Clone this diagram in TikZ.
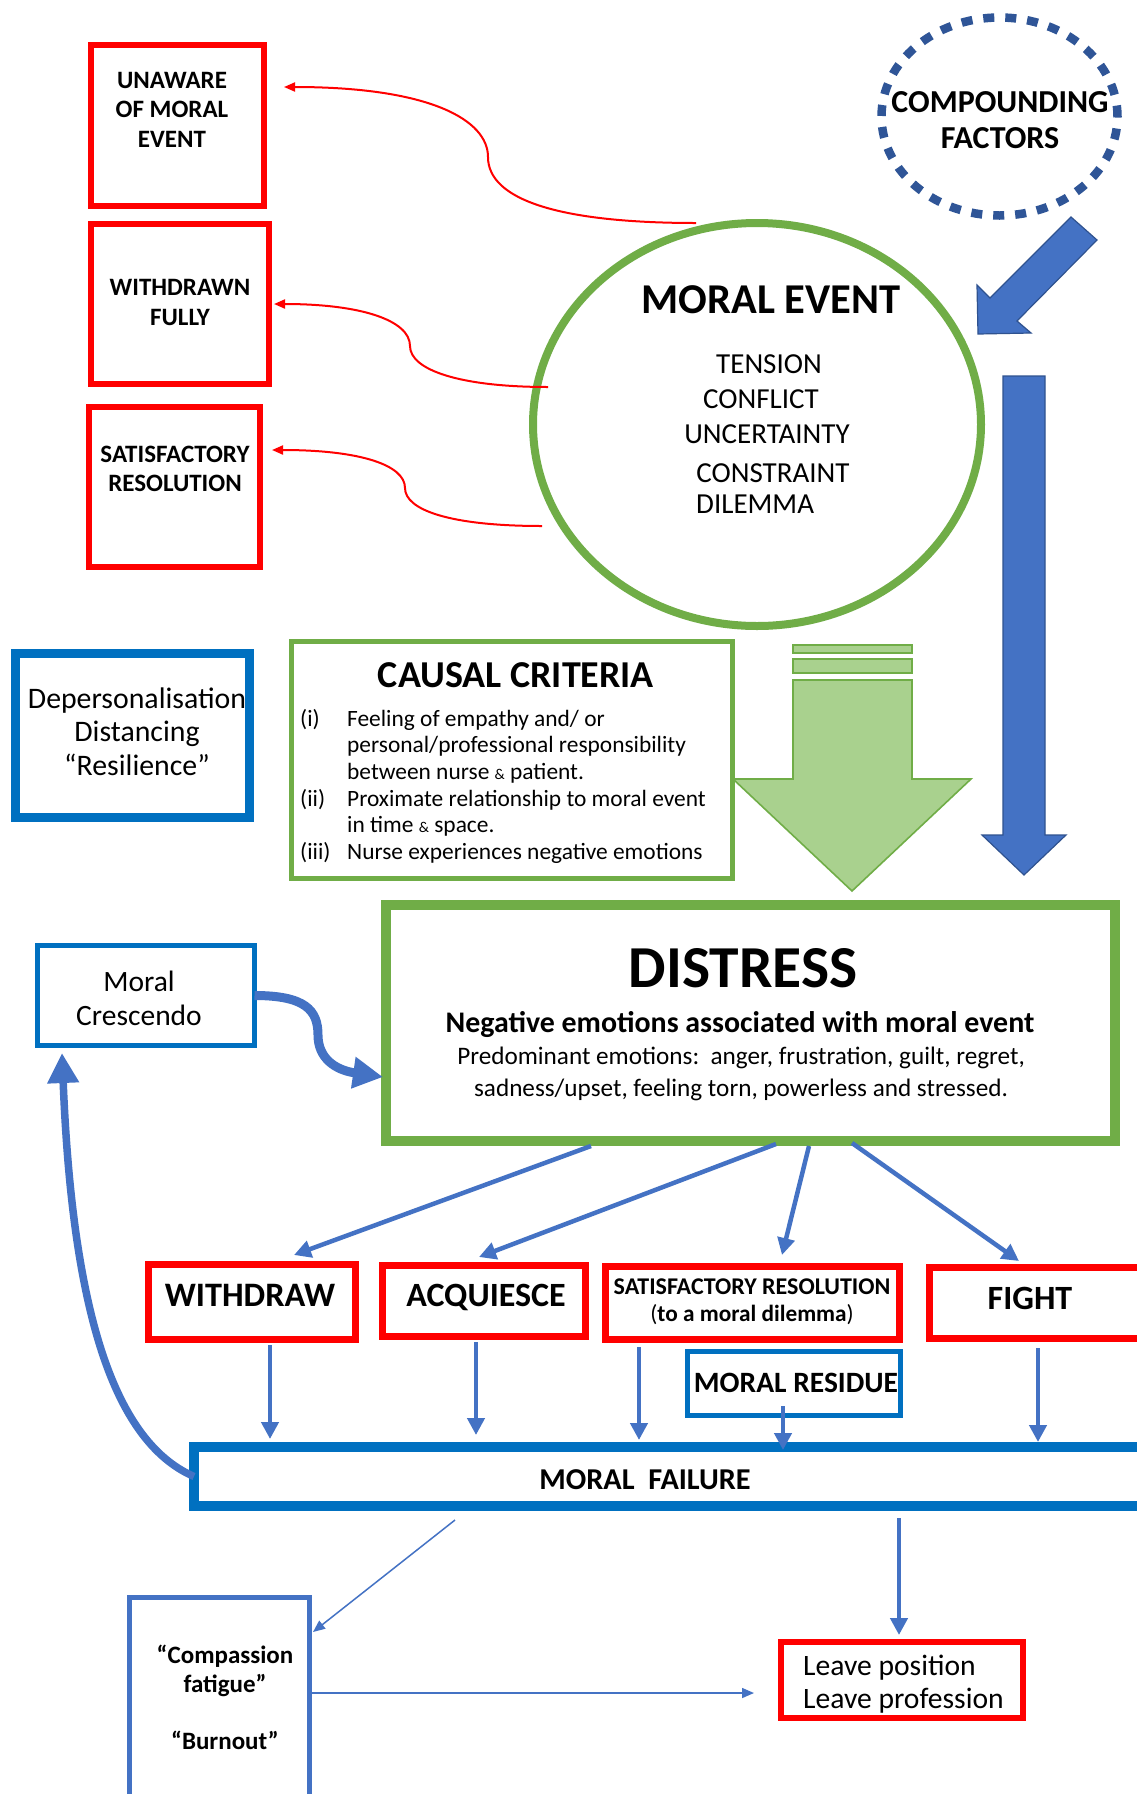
\documentclass[tikz,border=0pt]{standalone}
\usepackage{fontspec}
\setmainfont{Carlito}
\usetikzlibrary{shapes.geometric,arrows.meta,calc}
\definecolor{myred}{HTML}{FF0000}
\definecolor{boxblue}{HTML}{0070C0}
\definecolor{arrblue}{HTML}{4472C4}
\definecolor{darkblue}{HTML}{2F5597}
\definecolor{edgeblue}{HTML}{2F528F}
\definecolor{mygreen}{HTML}{70AD47}
\definecolor{lightgreen}{HTML}{A9D18E}
\newcommand{\setfs}[2]{\fontsize{#1}{#2}\selectfont}
\newcommand{\smallamp}{{\fontsize{15}{15}\selectfont\&}}
\begin{document}
\begin{tikzpicture}[x=1pt,y=-1pt,
  plainbox/.style={rectangle,inner sep=0pt,outer sep=0pt},
  redbox/.style={plainbox,draw=myred,line width=6.5pt},
  redboxB/.style={plainbox,draw=myred,line width=7pt},
  bluebox/.style={plainbox,draw=boxblue,line width=9pt},
  txt/.style={inner sep=0pt,align=center,text=black},
  arrmed/.style={draw=arrblue,line width=4.5pt,-{Triangle[length=17pt,width=17pt]}},
  arrthin/.style={draw=arrblue,line width=1.5pt,-{Triangle[length=12pt,width=10pt]}},
  redarr/.style={draw=myred,line width=2pt,-{Triangle[length=11pt,width=9pt]}},
  bigcurve/.style={draw=arrblue,line width=9pt,-{Triangle[length=30pt,width=30pt]}},
  blockarrow/.style={fill=arrblue,draw=edgeblue,line width=1.2pt,line join=miter},
  greenarrow/.style={fill=lightgreen,draw=mygreen,line width=1.6pt,line join=miter}
]
\useasboundingbox (0,0) rectangle (1137,1794);
\fill[white] (0,0) rectangle (1137,1794);
\clip (0,0) rectangle (1137,1794);

% ---------- top-left red boxes
\node[redbox,minimum width=173pt,minimum height=161pt] (unaware) at (177.5,125.5) {};
\node[txt,font={\bfseries\setfs{25}{29.5}}] (unawareT) at (172,109.5) {UNAWARE\\OF MORAL\\EVENT};
\node[redbox,minimum width=178pt,minimum height=160pt] (withdrawn) at (180,304) {};
\node[txt,font={\bfseries\setfs{25}{30}}] (withdrawnT) at (180,302) {WITHDRAWN\\FULLY};
\node[redbox,minimum width=171pt,minimum height=160pt] (satres) at (174.5,487) {};
\node[txt,font={\bfseries\setfs{25}{28.5}}] (satresT) at (175,469) {SATISFACTORY\\RESOLUTION};

% ---------- compounding factors
\node[ellipse,draw=darkblue,line width=8.5pt,dash pattern=on 11pt off 11pt,minimum width=236pt,minimum height=198pt,inner sep=0pt] (comp) at (999.5,116.5) {};
\node[txt,font={\bfseries\setfs{32}{36}}] (compT) at (1000,120) {COMPOUNDING\\FACTORS};

% ---------- moral event
\node[ellipse,draw=mygreen,line width=8pt,minimum width=448pt,minimum height=403pt,inner sep=0pt] (me) at (757,424.5) {};
\node[txt,font={\bfseries\setfs{42.5}{50}}] (meT) at (771,300) {MORAL EVENT};
\node[txt,font={\setfs{29}{35}}] (me1) at (769,364) {TENSION};
\node[txt,font={\setfs{29}{35}}] (me2) at (761,399) {CONFLICT};
\node[txt,font={\setfs{29}{35}}] (me3) at (767,434) {UNCERTAINTY};
\node[txt,font={\setfs{29}{35}}] (me4) at (773,473) {CONSTRAINT};
\node[txt,font={\setfs{29}{35}},anchor=west] (me5) at (696,504) {DILEMMA};

% ---------- red curved arrows
\draw[redarr] ($(me.center)+(-61,-201.5)$) .. controls (560,223) and (488,200) .. (488,157)
  .. controls (488,120) and (430,87) .. ($(unaware.east |- 0,87)+(20,0)$);
\draw[redarr] ($(me.center)+(-209,-37.5)$) .. controls (460,387) and (410,370) .. (410,346)
  .. controls (410,320) and (360,304) .. ($(withdrawn.east)+(5,0)$);
\draw[redarr] ($(me.center)+(-215,101.5)$) .. controls (450,526) and (405,510) .. (405,488)
  .. controls (405,465) and (360,450) .. ($(satres.east |- 0,450)+(12,0)$);

% ---------- block arrows
\filldraw[blockarrow] (1071,217) -- (1097,240) -- (1017,321) -- (1031,333) -- (978,334) -- (977,285) -- (990,298) -- cycle;
\filldraw[blockarrow] (1003,376) -- (1045,376) -- (1045,835) -- (1066,835) -- (1024,875) -- (982,835) -- (1003,835) -- cycle;
\filldraw[greenarrow] (793,645) rectangle (912,653);
\filldraw[greenarrow] (793,659) rectangle (912,673);
\filldraw[greenarrow] (793,680) -- (912,680) -- (912,779) -- (971,779) -- (852,891) -- (733,779) -- (793,779) -- cycle;

% ---------- depersonalisation
\node[bluebox,minimum width=234pt,minimum height=164pt] (depers) at (132.5,735.5) {};
\node[txt,font={\setfs{29.8}{33.5}}] (depersT) at (137,731.5) {Depersonalisation\\Distancing\\“Resilience”};

% ---------- causal criteria
\node[plainbox,draw=mygreen,line width=5pt,minimum width=441pt,minimum height=237pt] (causal) at (512,760) {};
\node[txt,font={\bfseries\setfs{38}{44}}] (causalH) at (516,675) {CAUSAL CRITERIA};
\node[inner sep=0pt,anchor=west,font={\setfs{23.4}{26.6}}] (causalT) at (300,787.5) {\begin{tabular}{@{}p{47pt}@{}l@{}}
(i)&Feeling of empathy and/ or\\
 &personal/professional responsibility\\
 &between nurse \smallamp{} patient.\\
(ii)&Proximate relationship to moral event\\
 &in time \smallamp{} space.\\
(iii)&Nurse experiences negative emotions
\end{tabular}};

% ---------- distress
\node[plainbox,draw=mygreen,line width=9.5pt,minimum width=729pt,minimum height=236pt] (distress) at (750.5,1023) {};
\node[txt,font={\bfseries\setfs{59.5}{70}}] (distressH) at (743,968) {DISTRESS};
\node[txt,font={\bfseries\setfs{29.9}{34}}] (distressS) at (740,1025) {Negative emotions associated with moral event};
\node[txt,font={\setfs{25.2}{32}}] (distressT) at (741,1074) {Predominant emotions:\ \ anger, frustration, guilt, regret,\\sadness/upset, feeling torn, powerless and stressed.};

% ---------- moral crescendo
\node[plainbox,draw=boxblue,line width=5pt,minimum width=217pt,minimum height=100pt] (cresc) at (146,995.5) {};
\node[txt,font={\setfs{29.5}{34}}] (crescT) at (139,998) {Moral\\Crescendo};

% ---------- response boxes
\node[redboxB,minimum width=207pt,minimum height=75pt] (withdraw) at (252,1302) {};
\node[txt,font={\bfseries\setfs{34.3}{40}}] (withdrawT) at (250,1295) {WITHDRAW};
\node[redboxB,minimum width=203pt,minimum height=71pt] (acq) at (484,1301) {};
\node[txt,font={\bfseries\setfs{34}{40}}] (acqT) at (486,1297) {ACQUIESCE};
\node[redboxB,minimum width=294pt,minimum height=73pt] (satres2) at (752.5,1303) {};
\node[txt,font={\bfseries\setfs{24}{28}}] (satres2T) at (752,1287) {SATISFACTORY RESOLUTION};
\node[txt,font={\bfseries\setfs{23.3}{28}}] (satres2S) at (752,1315) {{\mdseries(}to a moral dilemma{\mdseries)}};
\node[redboxB,minimum width=220pt,minimum height=71pt] (fight) at (1039.75,1303) {};
\node[txt,font={\bfseries\setfs{34}{40}}] (fightT) at (1030,1298) {FIGHT};

% ---------- moral residue
\node[plainbox,draw=boxblue,line width=5pt,minimum width=213pt,minimum height=64pt] (residue) at (794,1383.5) {};
\node[txt,font={\bfseries\setfs{29.5}{33}}] (residueT) at (796,1383) {MORAL RESIDUE};

% ---------- moral failure
\node[plainbox,draw=boxblue,line width=9.5pt,minimum width=956pt,minimum height=59pt] (failure) at (672,1476.5) {};
\node[txt,font={\bfseries\setfs{30.3}{35}}] (failureT) at (645,1480) {MORAL\ \ FAILURE};

% ---------- compassion fatigue
\node[plainbox,draw=arrblue,line width=5pt,minimum width=180pt,minimum height=212.5pt] (comp2) at (219.5,1703.75) {};
\node[txt,font={\bfseries\setfs{25}{28.5}}] (comp2T) at (225,1697.5) {“Compassion\\fatigue”\\[28.5pt]“Burnout”};

% ---------- leave
\node[plainbox,draw=myred,line width=6.5pt,minimum width=242pt,minimum height=76pt] (leave) at (902,1680) {};
\node[inner sep=0pt,align=left,anchor=west,font={\setfs{29.6}{33}}] (leaveT) at (803,1684.5) {Leave position\\Leave profession};

% ---------- arrows from distress
\draw[arrmed] ($(distress.south)+(-159.5,5)$) -- ($(withdraw.north)+(42,-9.5)$);
\draw[arrmed] ($(distress.south)+(25.5,3)$) -- ($(acq.north)+(-5,-8.5)$);
\draw[arrmed] ($(distress.south)+(58.5,5)$) -- ($(satres2.north)+(29.5,-11.5)$);
\draw[arrmed] ($(distress.south)+(101.5,2)$) -- ($(fight.north)+(-20.75,-6.5)$);

% ---------- arrows into moral failure
\draw[arrmed] ($(withdraw.south)+(18,5.5)$) -- ($(withdraw.south |- failure.north)+(18,-8)$);
\draw[arrmed] ($(acq.south)+(-8,5.5)$) -- ($(acq.south |- failure.north)+(-8,-12)$);
\draw[arrmed] ($(satres2.south)+(-113.5,7.5)$) -- ($(satres2.south |- failure.north)+(-113.5,-7)$);
\draw[arrmed] ($(residue.center)+(-11,22.5)$) -- ($(residue.center |- failure.north)+(-11,3)$);
\draw[arrmed] ($(fight.south)+(-1.75,9.5)$) -- ($(fight.south |- failure.north)+(-1.75,-5)$);

% ---------- arrows out of moral failure
\draw[arrmed] ($(failure.south)+(227,12)$) -- ($(leave.north)+(-3,-7)$);
\draw[arrthin] ($(failure.south)+(-217,14)$) -- ($(comp2.north east)+(3.5,34.5)$);
\draw[arrthin] ($(comp2.east |- 0,1693)+(2.5,0)$) -- ($(leave.west |- 0,1693)+(-27,0)$);

% ---------- big curved arrows
\draw[bigcurve] (cresc.east) .. controls (305,995.5) and (318,1010) .. (318,1035)
  .. controls (318,1058) and (335,1070) .. ($(distress.west |- 0,1077)+(-3,0)$);
\draw[bigcurve,line width=7.5pt] (failure.west) .. controls (110,1440) and (72,1300) .. ($(cresc.south west |- 0,1053)+(24.5,0)$);
\end{tikzpicture}
\end{document}
